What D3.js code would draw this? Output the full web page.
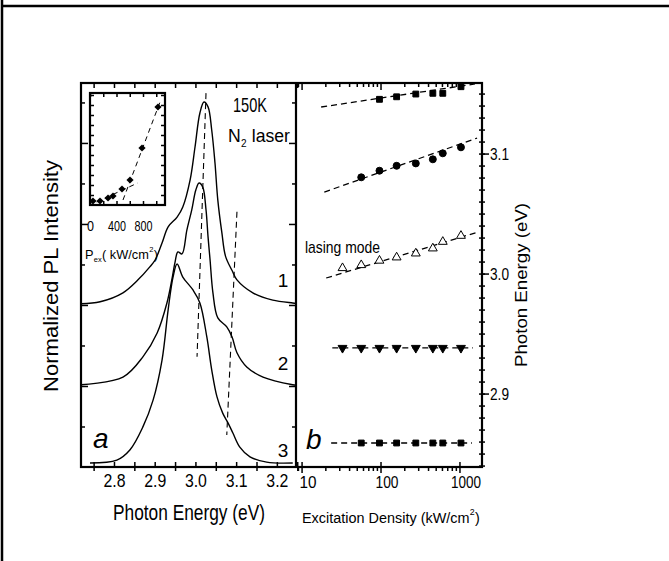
<!DOCTYPE html>
<html>
<head>
<meta charset="utf-8">
<script src="https://cdn.jsdelivr.net/npm/d3@7"></script>
<style>
body { margin:0; background:#fff; }
text { font-family: "Liberation Sans", Arial, sans-serif; fill:#000; }
</style>
</head>
<body>
<svg id="chart" width="669" height="561"></svg>
<script>
// ---------- panel a : PL spectra (energy eV, intensity above own baseline) ----------
var curve1E = [2.719,2.766,2.822,2.859,2.888,2.901,2.918,2.933,2.955,2.969,2.987,2.999,3.011,3.021,3.031,3.040,3.048,3.055,3.065,3.074,3.090,3.102,3.141,3.190,3.239,3.247];
var curve1I = [0.03,0.08,0.30,0.62,0.94,1.11,1.53,1.93,2.17,2.42,3.09,3.90,4.74,5.01,4.89,4.32,3.51,2.59,1.78,1.20,0.85,0.62,0.30,0.12,0.05,0.04];
var curve2E = [2.717,2.822,2.871,2.906,2.930,2.942,2.950,2.957,2.967,2.979,2.991,3.001,3.009,3.018,3.026,3.031,3.036,3.043,3.055,3.077,3.090,3.102,3.126,3.166,3.239,3.247];
var curve2I = [0.03,0.22,0.72,1.31,2.05,2.62,3.06,3.31,3.26,3.85,4.35,4.84,5.01,4.91,4.35,3.68,3.11,2.30,1.68,1.46,1.21,0.82,0.47,0.22,0.03,0.02];
var curve3E = [2.741,2.807,2.839,2.871,2.896,2.918,2.933,2.945,2.955,2.969,2.994,3.011,3.028,3.040,3.053,3.067,3.080,3.092,3.109,3.134,3.175,3.239];
var curve3I = [0.10,0.17,0.42,0.99,1.65,2.64,3.88,4.69,5.01,4.69,4.37,4.05,3.21,2.40,1.73,1.33,1.09,0.84,0.49,0.25,0.12,0.10];
var curveOffsets = [4, 2, 0];
var curveLabels = ["1", "2", "3"];
// dashed guides in panel a  [energy, absolute intensity]
var guideA = [[3.026, 9.23], [3.004, 2.72]];
var guideB = [[3.102, 6.30], [3.077, 0.79]];
var energyTicks = [2.8, 2.9, 3.0, 3.1, 3.2];

// ---------- inset : intensity vs excitation ----------
var insetPower = [45, 151, 272, 347, 483, 604, 785, 1026];
var insetIntensity = [0.4, 0.4, 0.7, 0.9, 1.6, 2.5, 5.7, 9.8];
var insetFitLow = [[100, 0.3], [720, 2.2]];
var insetFitHigh = [[498, 0.5], [1057, 10.3]];
var insetTicks = [0, 400, 800];

// ---------- panel b : peak energy vs excitation density ----------
var sqTopDensity = [97, 160, 280, 460, 615, 1045];
var sqTopEnergy = [3.1452, 3.1473, 3.1496, 3.1502, 3.1502, 3.1557];
var circDensity = [57, 97, 160, 280, 460, 615, 1045];
var circEnergy = [3.0802, 3.0857, 3.0898, 3.0918, 3.0952, 3.1002, 3.1052];
var triUpDensity = [33, 57, 97, 160, 280, 460, 615, 1045];
var triUpEnergy = [3.0046, 3.0071, 3.0108, 3.0135, 3.0168, 3.0210, 3.0265, 3.0315];
var triDownDensity = [33, 57, 97, 160, 280, 460, 615, 1045];
var triDownEnergy = [2.938, 2.938, 2.938, 2.938, 2.938, 2.938, 2.938, 2.938];
var sqBotDensity = [57, 97, 160, 280, 460, 615, 1045];
var sqBotEnergy = [2.8588, 2.8588, 2.8588, 2.8588, 2.8588, 2.8588, 2.8588];
var fit1 = [[17.7, 3.1388], [1574, 3.1580]];
var fit2 = [[19.4, 3.0679], [1671, 3.1129]];
var fit3 = [[20.5, 2.9963], [1721, 3.0346]];
var fit4 = [[24.5, 2.938], [1486, 2.938]];
var fit5 = [[23.7, 2.8588], [1442, 2.8588]];
var densityTicks = [10, 100, 1000];
var photonTicks = [2.9, 3.0, 3.1];

var svg = d3.select("#chart");
svg.append("rect").attr("width", 669).attr("height", 561).attr("fill", "#fff");

// outer frame pieces
svg.append("line").attr("x1", 1).attr("x2", 669).attr("y1", 6).attr("y2", 6)
	.attr("stroke", "#000").attr("stroke-width", 2.5);
svg.append("line").attr("x1", 2).attr("x2", 2).attr("y1", 0).attr("y2", 561)
	.attr("stroke", "#000").attr("stroke-width", 2.5);

// scales
var xE = d3.scaleLinear().domain([2.719, 3.247]).range([81, 296]);
var yI = d3.scaleLinear().domain([0, 9.48]).range([467, 83]);
var xD = d3.scaleLog().domain([8.5, 1930]).range([296, 482]);
var yE = d3.scaleLinear().domain([2.8388, 3.1588]).range([467, 83]);
var xP = d3.scaleLinear().domain([0, 1132]).range([90, 165]);
var yP = d3.scaleLinear().domain([0, 11.2]).range([205, 93]);

function tickAxis(axis, tx, ty, values, size, width) {
	var g = svg.append("g").attr("transform", "translate(" + tx + "," + ty + ")");
	g.call(axis.tickValues(values).tickSize(size).tickFormat(""));
	g.select(".domain").remove();
	g.selectAll(".tick line").attr("stroke", "#000").attr("stroke-width", width);
	return g;
}

function labelAxis(axis, tx, ty, values, fmt, size, lens, dx, dy) {
	var g = svg.append("g").attr("transform", "translate(" + tx + "," + ty + ")");
	g.call(axis.tickValues(values).tickSize(0).tickFormat(fmt));
	g.select(".domain").remove();
	g.selectAll(".tick line").remove();
	g.selectAll(".tick text")
		.attr("font-family", "Liberation Sans, Arial, sans-serif")
		.attr("font-size", size)
		.attr("fill", "#000")
		.attr("dx", dx).attr("dy", dy)
		.attr("lengthAdjust", "spacingAndGlyphs")
		.attr("textLength", function(d, i) { return lens[i]; });
	g.attr("font-family", null).attr("font-size", null);
	return g;
}

// text made of runs (sub/superscripts), font shrunk so the whole fits a given width
function runText(x, y, runs, width, gap) {
	var nodes = runs.map(function(r) {
		return svg.append("text").attr("y", y + (r.dy || 0))
			.attr("font-size", r.size).text(r.t);
	});
	var ws = nodes.map(function(n) { return n.node().getComputedTextLength(); });
	var f = (width - gap * (runs.length - 1)) / d3.sum(ws);
	var cx = x;
	nodes.forEach(function(n, i) {
		n.attr("x", cx).attr("font-size", runs[i].size * f);
		cx += n.node().getComputedTextLength() + gap;
	});
}

// ==================== panel a ====================
var halfSteps = d3.range(2.75, 3.2501, 0.05);
var offSteps = d3.range(2.75, 3.2501, 0.1);
tickAxis(d3.axisBottom(xE), 0, 467, halfSteps, -5, 1.5);
tickAxis(d3.axisBottom(xE), 0, 467, offSteps, 4, 1.5);
tickAxis(d3.axisTop(xE), 0, 83, halfSteps, -5, 1.5);
var intMajor = [2, 4, 6, 8], intMinor = [1, 3, 5, 7, 9];
tickAxis(d3.axisLeft(yI), 81, 0, intMajor, -7, 1.5);
tickAxis(d3.axisLeft(yI), 81, 0, intMinor, -4, 1.5);
tickAxis(d3.axisRight(yI), 296, 0, intMajor, -7, 1.5);
tickAxis(d3.axisRight(yI), 296, 0, intMinor, -4, 1.5);
labelAxis(d3.axisBottom(xE), 0, 467, energyTicks, d3.format(".1f"), 19, [22, 22, 22, 22, 22], 0, "0.92em");

svg.append("clipPath").attr("id", "clipA").append("rect")
	.attr("x", 81).attr("y", 83).attr("width", 215).attr("height", 384);

var curves = [[curve1E, curve1I], [curve2E, curve2I], [curve3E, curve3I]];
curves.forEach(function(c, k) {
	var pts = c[0].map(function(e, i) { return [e, c[1][i] + curveOffsets[k]]; });
	svg.append("path")
		.attr("clip-path", "url(#clipA)")
		.attr("d", d3.line()
			.x(function(d) { return xE(d[0]); })
			.y(function(d) { return yI(d[1]); })
			.curve(d3.curveCatmullRom.alpha(0.5))(pts))
		.attr("fill", "none").attr("stroke", "#000").attr("stroke-width", 1.4);
});

[guideA, guideB].forEach(function(gd) {
	svg.append("line")
		.attr("x1", xE(gd[0][0])).attr("y1", yI(gd[0][1]))
		.attr("x2", xE(gd[1][0])).attr("y2", yI(gd[1][1]))
		.attr("stroke", "#000").attr("stroke-width", 1.1).attr("stroke-dasharray", "6,4");
});

var labelY = [287, 370, 457];
curveLabels.forEach(function(t, i) {
	svg.append("text").attr("x", 283).attr("y", labelY[i]).attr("text-anchor", "middle")
		.attr("font-size", 19).text(t);
});

svg.append("text").attr("x", 233).attr("y", 112).attr("font-size", 21)
	.attr("textLength", 34).attr("lengthAdjust", "spacingAndGlyphs").text("150K");
runText(228, 142, [{t: "N", size: 21}, {t: "2", size: 12, dy: 5}, {t: "\u00a0laser", size: 21}], 62, 0.3);

svg.append("text").attr("x", 93).attr("y", 448).attr("font-size", 28)
	.attr("font-style", "italic").text("a");

// ---------- inset ----------
svg.append("rect").attr("x", 90).attr("y", 93).attr("width", 75).attr("height", 112)
	.attr("fill", "none").attr("stroke", "#000").attr("stroke-width", 2.2);
var insX = d3.range(0, 1132, 200);
var insY = d3.range(1, 11.2, 1);
tickAxis(d3.axisBottom(xP), 0, 205, insX, -4, 1.5);
tickAxis(d3.axisTop(xP), 0, 93, insX, -4, 1.5);
tickAxis(d3.axisLeft(yP), 90, 0, insY, -4, 1.5);
tickAxis(d3.axisRight(yP), 165, 0, insY, -4, 1.5);
labelAxis(d3.axisBottom(xP), 0, 205, insetTicks, d3.format("d"), 15, [7, 18, 18], 0, "1.55em");

[insetFitLow, insetFitHigh].forEach(function(f) {
	svg.append("line")
		.attr("x1", xP(f[0][0])).attr("y1", yP(f[0][1]))
		.attr("x2", xP(f[1][0])).attr("y2", yP(f[1][1]))
		.attr("stroke", "#000").attr("stroke-width", 1).attr("stroke-dasharray", "5,4");
});
svg.selectAll(".diamond").data(insetPower).enter().append("path")
	.attr("class", "diamond")
	.attr("d", d3.symbol().type(d3.symbolSquare).size(26))
	.attr("transform", function(d, i) {
		return "translate(" + xP(d) + "," + yP(insetIntensity[i]) + ") rotate(45)";
	})
	.attr("fill", "#000");

runText(85, 259, [{t: "P", size: 17}, {t: "ex", size: 10, dy: 3}, {t: "( kW/cm", size: 17},
	{t: "2", size: 10, dy: -7}, {t: ")", size: 17}], 73, 0.3);

// ==================== panel b ====================
var logMajor = [10, 100, 1000];
var logMinor = [9].concat(d3.range(20, 100, 10), d3.range(200, 1000, 100));
tickAxis(d3.axisTop(xD), 0, 83, logMajor, -7, 1.5);
tickAxis(d3.axisTop(xD), 0, 83, logMinor, -4, 1.5);
tickAxis(d3.axisBottom(xD), 0, 467, logMajor, 6, 1.5);
tickAxis(d3.axisBottom(xD), 0, 467, logMinor, 4, 1.5);
tickAxis(d3.axisBottom(xD), 0, 467, logMajor, -5, 1.5);
labelAxis(d3.axisBottom(xD), 0, 467, densityTicks, d3.format("d"), 17, [17, 23, 30], 6, "1.05em");

var eMinor = d3.range(2.84, 3.155, 0.01);
tickAxis(d3.axisRight(yE), 479, 0, eMinor, 6, 1.5);
tickAxis(d3.axisRight(yE), 482, 0, photonTicks, 7, 1.5);
labelAxis(d3.axisRight(yE), 487, 0, photonTicks, d3.format(".1f"), 16, [19, 19, 19], 0, "0.35em");

[fit1, fit2, fit3, fit4, fit5].forEach(function(f) {
	svg.append("line")
		.attr("x1", xD(f[0][0])).attr("y1", yE(f[0][1]))
		.attr("x2", xD(f[1][0])).attr("y2", yE(f[1][1]))
		.attr("stroke", "#000").attr("stroke-width", 1.3).attr("stroke-dasharray", "6,4");
});

function markers(dens, en, type, size, fill, rot) {
	svg.append("g").selectAll("path").data(dens).enter().append("path")
		.attr("d", d3.symbol().type(type).size(size))
		.attr("transform", function(d, i) {
			return "translate(" + xD(d) + "," + yE(en[i]) + ")" + (rot ? " rotate(180)" : "");
		})
		.attr("fill", fill).attr("stroke", "#000").attr("stroke-width", 1);
}
markers(sqTopDensity, sqTopEnergy, d3.symbolSquare, 34, "#000", false);
markers(circDensity, circEnergy, d3.symbolCircle, 38, "#000", false);
markers(triUpDensity, triUpEnergy, d3.symbolTriangle, 34, "#fff", false);
markers(triDownDensity, triDownEnergy, d3.symbolTriangle, 34, "#000", true);
markers(sqBotDensity, sqBotEnergy, d3.symbolSquare, 34, "#000", false);

svg.append("text").attr("x", 305).attr("y", 253).attr("font-size", 17)
	.attr("textLength", 75).attr("lengthAdjust", "spacingAndGlyphs").text("lasing mode");
svg.append("text").attr("x", 306).attr("y", 449).attr("font-size", 28)
	.attr("font-style", "italic").text("b");

// panel borders
svg.append("rect").attr("x", 81).attr("y", 83).attr("width", 401).attr("height", 384)
	.attr("fill", "none").attr("stroke", "#000").attr("stroke-width", 2.2);
svg.append("line").attr("x1", 296).attr("x2", 296).attr("y1", 83).attr("y2", 467)
	.attr("stroke", "#000").attr("stroke-width", 2.2);

// axis titles
svg.append("text").attr("transform", "translate(58,276) rotate(-90)")
	.attr("text-anchor", "middle").attr("font-size", 21)
	.attr("textLength", 232).attr("lengthAdjust", "spacingAndGlyphs")
	.text("Normalized PL Intensity");
svg.append("text").attr("transform", "translate(527,285) rotate(-90)")
	.attr("text-anchor", "middle").attr("font-size", 17)
	.attr("textLength", 164).attr("lengthAdjust", "spacingAndGlyphs")
	.text("Photon Energy (eV)");
svg.append("text").attr("x", 113).attr("y", 520).attr("font-size", 22)
	.attr("textLength", 152).attr("lengthAdjust", "spacingAndGlyphs")
	.text("Photon Energy (eV)");
runText(302, 523, [{t: "Excitation Density (kW/cm", size: 18}, {t: "2", size: 11, dy: -8},
	{t: ")", size: 18}], 178, 0.3);
</script>
</body>
</html>
